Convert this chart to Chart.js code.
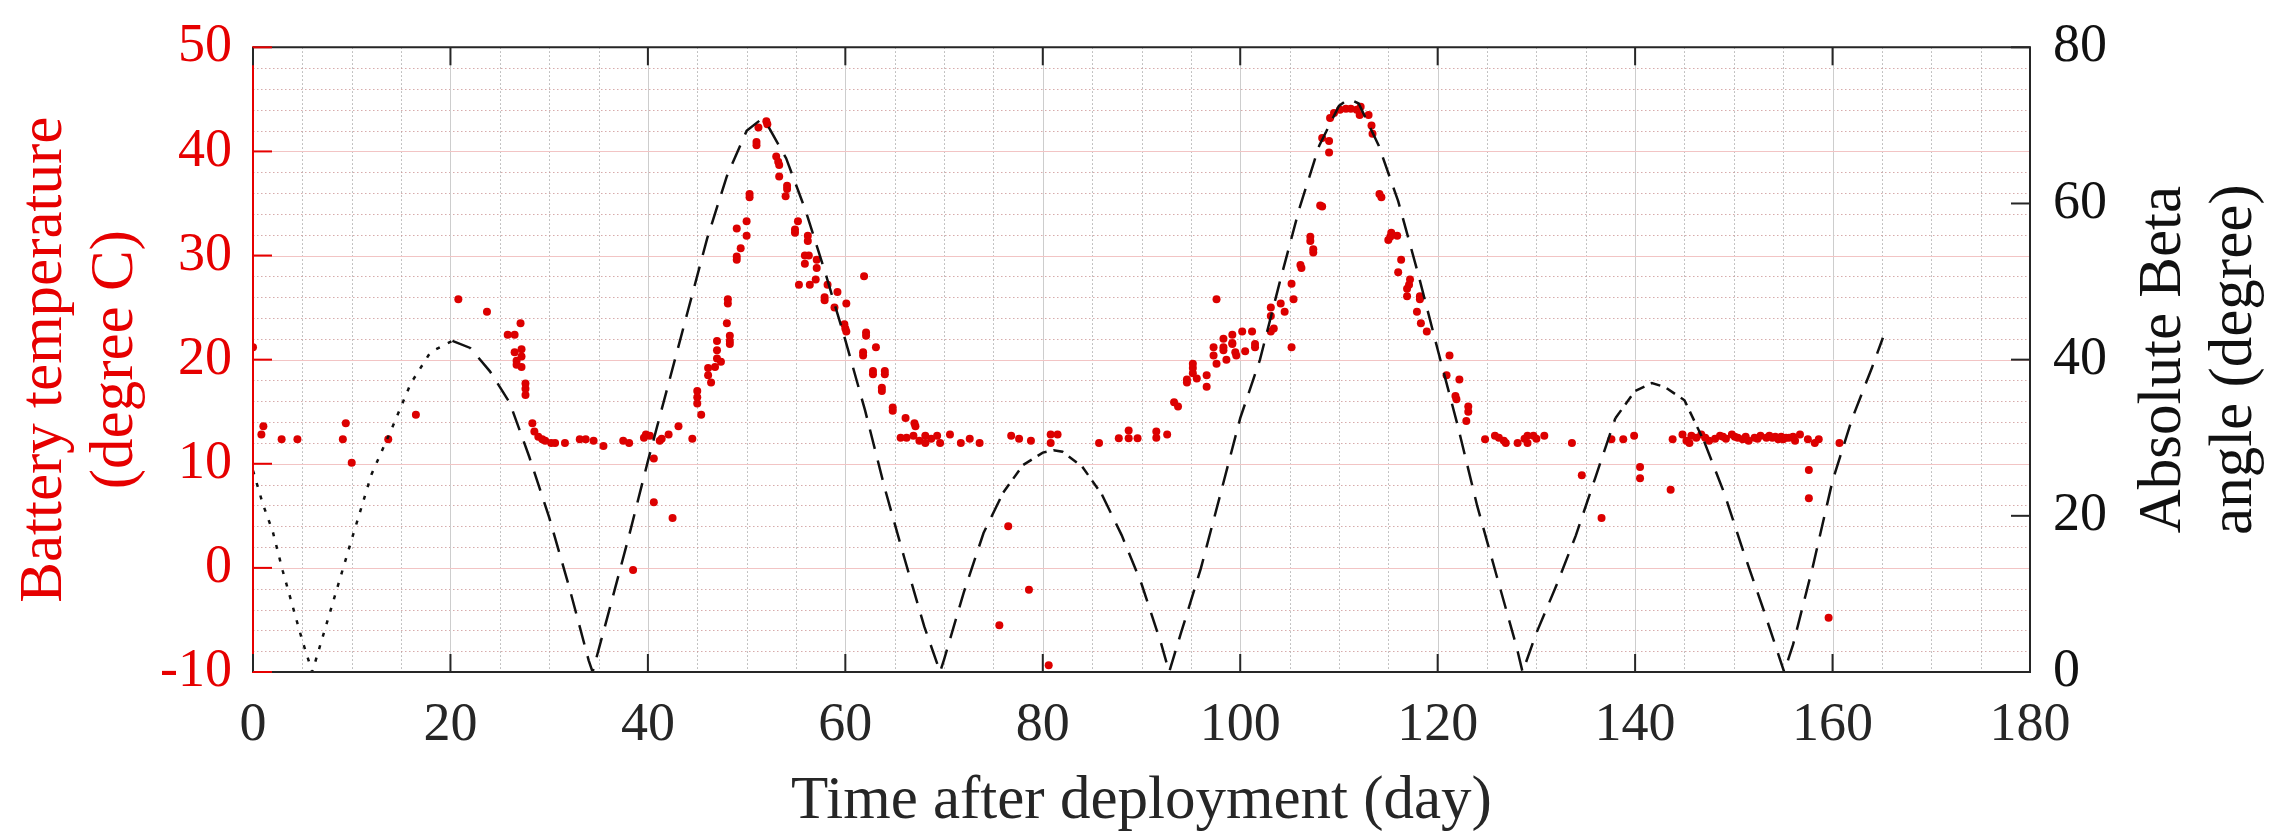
<!DOCTYPE html>
<html>
<head>
<meta charset="utf-8">
<script src="https://cdn.jsdelivr.net/npm/chart.js@4.4.0/dist/chart.umd.min.js"></script>
<style>
html,body{margin:0;padding:0;background:#fff;overflow:hidden;}
#wrap{width:2287px;height:832px;position:relative;}
</style>
</head>
<body>
<div id="wrap"><canvas id="c" width="2287" height="832"></canvas></div>
<script>
// ---------- DATA ----------
const xTicks = [0, 20, 40, 60, 80, 100, 120, 140, 160, 180];
const leftTicks = [-10, 0, 10, 20, 30, 40, 50];
const rightTicks = [0, 20, 40, 60, 80];

const xTitle = 'Time after deployment (day)';
const leftTitle = ['Battery temperature', '(degree C)'];
const rightTitle = ['Absolute Beta', 'angle (degree)'];

// Battery temperature (degree C) vs day
const tempDays = [
  0.0, 0.85, 1.05, 2.9, 4.5, 9.1, 9.4, 10.0, 13.7, 16.5,
  20.8, 23.7, 25.8, 26.5, 27.1, 26.5, 27.2, 26.7, 27.2, 26.7, 27.2, 27.6, 27.6, 27.6,
  28.3, 28.5, 28.9, 29.3, 29.6, 30.2, 30.6, 31.6, 33.1, 33.7, 34.5,
  35.5, 37.5, 38.1, 39.6, 39.8, 40.2, 40.6, 41.2, 41.4, 42.1, 43.1, 44.5, 45.4, 40.6, 42.5, 38.5,
  45.0, 45.0, 45.0, 46.1, 46.1, 46.4, 46.8, 47.0, 47.0, 47.0, 47.4, 48.0, 48.1, 48.1, 48.3, 48.3, 48.3,
  49.0, 49.0, 49.0, 49.4, 50.0, 50.0, 50.3, 50.3, 51.0, 51.0, 51.2, 52.0, 52.1,
  53.0, 53.2, 53.3, 53.3, 54.1, 54.1, 53.95, 54.9, 54.9, 55.2, 56.2, 56.2, 55.9, 56.3, 55.9,
  57.1, 57.1, 55.3, 56.4, 57.0, 58.2, 59.2, 57.9, 57.9, 58.9, 60.1, 61.9, 59.9, 60.0, 60.1,
  62.1, 62.1, 63.1, 61.8, 61.8, 62.8, 62.8, 64.0, 64.0, 63.7, 63.7, 64.8, 64.8, 66.1, 67.0, 67.1,
  65.6, 66.2, 66.9, 67.5, 68.1, 68.1, 68.7, 69.3, 69.6, 70.6, 71.7, 72.6, 73.6,
  76.8, 77.6, 78.8, 80.8, 81.5, 80.8, 76.5, 78.6, 75.6, 80.6,
  85.7, 87.7, 88.7, 88.7, 89.6, 91.5, 91.5, 92.6, 93.3, 93.7, 94.6, 94.6, 95.2, 95.2, 95.2, 95.6,
  96.6, 96.6, 97.3, 97.3, 97.6, 97.6, 98.3, 98.3, 98.3, 98.6, 99.2, 99.2, 99.2, 99.5, 99.6,
  100.2, 100.5, 101.2, 101.5, 101.5, 103.1, 103.1, 104.1, 104.5, 103.1, 103.4, 105.2, 105.2, 105.4,
  106.1, 106.2, 107.1, 107.1, 107.4, 107.4, 108.1, 108.3, 108.3, 109.0, 109.0, 109.1, 109.5,
  110.1, 110.7, 111.2, 111.8, 112.2, 112.1, 113.0, 113.3, 113.4, 114.1, 114.3,
  115.3, 115.2, 115.0, 115.9, 116.3, 116.0, 117.2, 117.1, 116.9, 116.9, 118.2, 118.2, 117.9, 118.3, 118.9,
  121.2, 120.9, 122.2, 121.8, 121.9, 123.1, 123.1, 122.9,
  124.8, 125.8, 126.2, 126.7, 126.9, 128.1, 128.8, 129.1, 129.1, 129.7, 130.0, 130.8,
  133.6, 134.6, 136.6, 137.6, 138.8, 139.9, 140.5, 140.5, 143.6,
  143.8, 144.8, 145.2, 145.7, 145.5, 146.2, 146.7, 147.1, 147.5, 148.1, 148.6, 148.9, 149.2, 149.8,
  150.1, 150.4, 150.9, 151.2, 151.5, 152.1, 152.4, 152.7, 153.3, 153.6, 153.9, 154.2, 154.5, 154.8,
  155.0, 155.3, 155.6, 156.0, 156.2, 156.7, 157.5, 158.2, 158.6, 160.7, 157.6, 157.6, 159.6
];
const tempValues = [
  21.2, 12.8, 13.6, 12.35, 12.35, 12.35, 13.9, 10.1, 12.35, 14.7,
  25.8, 24.6, 22.4, 22.4, 23.5, 20.7, 21.0, 19.9, 20.3, 19.5, 19.3, 17.7, 17.2, 16.6,
  13.9, 13.1, 12.6, 12.35, 12.2, 12.0, 12.0, 12.0, 12.35, 12.35, 12.2,
  11.7, 12.2, 12.0, 12.5, 12.8, 12.7, 10.5, 12.2, 12.4, 12.8, 13.6, 12.4, 14.7, 6.3, 4.8, -0.2,
  17.0, 16.4, 15.8, 19.2, 18.5, 17.8, 19.3, 21.8, 20.9, 20.1, 19.8, 23.5, 25.8, 25.4, 22.3, 21.8, 21.5,
  32.6, 29.9, 29.6, 30.7, 33.3, 31.9, 35.9, 35.6, 40.9, 40.6, 42.3, 42.9, 42.6,
  39.5, 39.0, 38.7, 37.6, 36.7, 36.4, 35.7, 32.5, 32.2, 33.3, 31.9, 31.4, 30.0, 30.0, 29.2,
  29.6, 28.8, 27.2, 27.2, 27.7, 27.2, 26.5, 26.0, 25.7, 25.0, 25.4, 28.0, 23.4, 23.0, 22.7,
  22.6, 22.3, 21.2, 20.7, 20.4, 18.9, 18.6, 18.9, 18.6, 17.3, 17.0, 15.4, 15.1, 14.4, 13.9, 13.6,
  12.5, 12.5, 12.7, 12.2, 12.7, 12.0, 12.4, 12.7, 12.0, 12.8, 12.0, 12.4, 12.0,
  12.7, 12.4, 12.2, 12.8, 12.8, 12.0, 4.0, -2.1, -5.5, -9.35,
  12.0, 12.45, 13.2, 12.45, 12.45, 13.1, 12.5, 12.8, 15.9, 15.5, 18.1, 17.8, 19.6, 19.2, 18.7, 18.2,
  18.5, 17.4, 21.2, 20.4, 19.6, 25.8, 22.0, 21.2, 20.9, 20.0, 22.4, 21.6, 21.5, 20.7, 20.4,
  22.7, 20.8, 22.7, 21.5, 21.2, 25.0, 24.2, 25.4, 24.6, 22.7, 23.0, 21.2, 27.3, 25.8,
  29.1, 28.8, 31.8, 31.4, 30.6, 30.3, 34.8, 34.7, 41.3, 41.0, 39.9, 43.2, 43.7,
  44.0, 44.1, 44.1, 44.0, 44.3, 43.5, 43.5, 42.5, 41.7, 35.9, 35.6,
  32.2, 31.8, 31.5, 31.9, 29.6, 28.4, 27.7, 27.2, 26.8, 26.1, 26.1, 25.8, 24.6, 23.5, 22.7,
  20.4, 18.5, 18.1, 16.5, 16.2, 15.5, 15.0, 14.1,
  12.35, 12.7, 12.5, 12.2, 12.0, 12.0, 12.4, 12.0, 12.7, 12.7, 12.4, 12.7,
  12.0, 8.9, 4.8, 12.35, 12.35, 12.7, 9.7, 8.6, 7.5,
  12.35, 12.8, 12.2, 12.7, 12.0, 12.5, 12.8, 12.5, 12.2, 12.4, 12.7, 12.6, 12.4, 12.8,
  12.6, 12.5, 12.35, 12.6, 12.2, 12.5, 12.4, 12.7, 12.5, 12.7, 12.5, 12.6, 12.35, 12.6,
  12.35, 12.5, 12.5, 12.6, 12.2, 12.8, 12.35, 12.0, 12.35, 12.0, 9.4, 6.7, -4.8
];

// Absolute beta angle (degree) vs day
const betaDays = [
  0, 1, 2, 3, 4, 5, 6,
  8, 10, 12, 14, 16, 18, 20.2, 22, 24, 26, 28, 30, 32, 34, 34.4,
  36, 38, 40, 42, 44, 46, 48, 50, 51.3, 52, 54, 56, 58, 60, 62, 64, 66, 68, 69.6,
  70, 72, 74, 76, 78, 80, 81.1, 82, 84, 86, 88, 90, 92, 92.8,
  94, 96, 98, 100, 102, 104, 106, 108, 110, 111, 112, 114, 116, 118, 120, 122, 124, 126, 128, 128.6,
  130, 132, 134, 136, 138, 140, 141.7, 143, 145, 147, 149, 151, 153, 155.1,
  156, 158, 160, 162, 164, 165.1
];
const betaValues = [
  25.8, 21.5, 18, 13, 8.5, 4, 0,
  8.5, 17, 25.3, 31, 37, 41, 42.4, 41.5, 38.5, 34.5, 27.5, 19.8, 11, 1.5, 0,
  7.5, 17, 27, 36.5, 46, 55.5, 63.5, 69.3, 70.6, 70.3, 65.8, 59, 51, 42.5, 33.5, 23.5, 14.5, 5.8, 0,
  1.6, 10.2, 17.8, 23, 26.5, 28.1, 28.4, 28.2, 26.3, 22.7, 17.5, 11.3, 3.6, 0,
  5, 13.2, 22.8, 32.5, 40, 49.9, 59.4, 67.4, 72.5, 73.4, 72.8, 67.5, 60.3, 51.1, 41.3, 31.7, 21.3, 12.2, 3.2, 0,
  5, 11, 17.5, 25, 32.5, 36, 37, 36.5, 34.8, 29.5, 23, 15.3, 8, 0,
  3.5, 13.5, 24.5, 32.5, 39, 42.8
];

// ---------- STYLE ----------
const RED = '#e60000';
const DOT = '#dc0000';
const DARK = '#262626';
const FONT = '"Liberation Serif", "Times New Roman", serif';

const matlabPlugin = {
  id: 'matlabLook',
  beforeDatasetsDraw(chart) {
    const {ctx, chartArea: a, scales} = chart;
    const x = scales.x, y = scales.y;
    ctx.save();
    ctx.beginPath();
    ctx.rect(a.left, a.top, a.right - a.left, a.bottom - a.top);
    ctx.clip();
    ctx.lineWidth = 1;
    ctx.setLineDash([1.5, 2.5]);
    ctx.strokeStyle = 'rgba(150,150,150,0.75)';
    for (let v = x.min; v <= x.max; v += 5) {
      if (v % 20 === 0) continue;
      const px = Math.round(x.getPixelForValue(v)) + 0.5;
      ctx.beginPath(); ctx.moveTo(px, a.top); ctx.lineTo(px, a.bottom); ctx.stroke();
    }
    ctx.strokeStyle = 'rgba(205,150,150,0.8)';
    for (let v = y.min; v <= y.max; v += 2) {
      if (v % 10 === 0) continue;
      const py = Math.round(y.getPixelForValue(v)) + 0.5;
      ctx.beginPath(); ctx.moveTo(a.left, py); ctx.lineTo(a.right, py); ctx.stroke();
    }
    ctx.setLineDash([]);
    ctx.strokeStyle = 'rgba(205,205,205,1)';
    xTicks.forEach(v => {
      const px = Math.round(x.getPixelForValue(v)) + 0.5;
      ctx.beginPath(); ctx.moveTo(px, a.top); ctx.lineTo(px, a.bottom); ctx.stroke();
    });
    ctx.strokeStyle = 'rgba(242,196,196,1)';
    leftTicks.forEach(v => {
      const py = Math.round(y.getPixelForValue(v)) + 0.5;
      ctx.beginPath(); ctx.moveTo(a.left, py); ctx.lineTo(a.right, py); ctx.stroke();
    });
    ctx.restore();
  },
  afterDatasetsDraw(chart) {
    const {ctx, chartArea: a, scales} = chart;
    const x = scales.x, y = scales.y, y1 = scales.y1;
    ctx.save();
    ctx.lineWidth = 2;
    ctx.setLineDash([]);
    ctx.strokeStyle = DARK;
    ctx.beginPath();
    ctx.moveTo(a.left, a.top); ctx.lineTo(a.right, a.top); ctx.lineTo(a.right, a.bottom); ctx.lineTo(a.left, a.bottom);
    ctx.stroke();
    ctx.strokeStyle = RED;
    ctx.beginPath(); ctx.moveTo(a.left, a.top - 1); ctx.lineTo(a.left, a.bottom + 1); ctx.stroke();
    ctx.strokeStyle = DARK;
    xTicks.forEach(v => {
      const px = x.getPixelForValue(v);
      ctx.beginPath(); ctx.moveTo(px, a.bottom); ctx.lineTo(px, a.bottom - 18); ctx.stroke();
      ctx.beginPath(); ctx.moveTo(px, a.top); ctx.lineTo(px, a.top + 18); ctx.stroke();
    });
    rightTicks.forEach(v => {
      const py = y1.getPixelForValue(v);
      ctx.beginPath(); ctx.moveTo(a.right, py); ctx.lineTo(a.right - 19, py); ctx.stroke();
    });
    ctx.strokeStyle = RED;
    leftTicks.forEach(v => {
      const py = y.getPixelForValue(v);
      ctx.beginPath(); ctx.moveTo(a.left, py); ctx.lineTo(a.left + 19, py); ctx.stroke();
    });
    ctx.restore();
  },
  afterDraw(chart) {
    const {ctx, chartArea: a} = chart;
    const cy = (a.top + a.bottom) / 2;
    ctx.save();
    ctx.font = '61px ' + FONT;
    ctx.textAlign = 'center';
    ctx.textBaseline = 'alphabetic';
    ctx.fillStyle = DARK;
    ctx.fillText(xTitle, (a.left + a.right) / 2, 818);
    ctx.fillStyle = RED;
    [61, 132].forEach((bx, i) => {
      ctx.save(); ctx.translate(bx, cy); ctx.rotate(-Math.PI / 2);
      ctx.fillText(leftTitle[i], 0, 0); ctx.restore();
    });
    ctx.fillStyle = '#111';
    [2180, 2251].forEach((bx, i) => {
      ctx.save(); ctx.translate(bx, cy); ctx.rotate(-Math.PI / 2);
      ctx.fillText(rightTitle[i], 0, 0); ctx.restore();
    });
    ctx.restore();
  }
};

const tempData = tempDays.map((d, i) => ({x: d, y: tempValues[i]}));
const betaData = betaDays.map((d, i) => ({x: d, y: betaValues[i]}));

function betaDash(c) {
  const x0 = c.p0.parsed.x;
  if (x0 < 20) return [4, 9];
  if ((x0 >= 76 && x0 < 86) || (x0 >= 138 && x0 < 146)) return [10, 7];
  return [20, 12];
}

new Chart(document.getElementById('c'), {
  type: 'scatter',
  data: {
    datasets: [
      {
        label: 'Absolute Beta angle',
        data: betaData,
        yAxisID: 'y1',
        showLine: true,
        borderColor: '#111',
        borderWidth: 2.5,
        borderDash: [20, 12],
        borderCapStyle: 'butt',
        pointRadius: 0,
        tension: 0,
        order: 0,
        segment: {borderDash: betaDash}
      },
      {
        label: 'Battery temperature',
        data: tempData,
        yAxisID: 'y',
        pointRadius: 4,
        pointBackgroundColor: DOT,
        pointBorderWidth: 0,
        borderWidth: 0,
        order: 1
      }
    ]
  },
  options: {
    responsive: false,
    devicePixelRatio: 1,
    animation: false,
    events: [],
    layout: {padding: {top: 27, left: 0, right: 0, bottom: 0}},
    plugins: {legend: {display: false}, tooltip: {enabled: false}},
    scales: {
      x: {
        type: 'linear', min: 0, max: 180, position: 'bottom',
        grid: {display: false, drawTicks: false}, border: {display: false},
        afterBuildTicks: s => { s.ticks = xTicks.map(v => ({value: v})); },
        afterFit: s => { s.height = 160; },
        ticks: {color: DARK, padding: 27, maxRotation: 0, autoSkip: false,
                font: {family: FONT, size: 54, lineHeight: 1}}
      },
      y: {
        type: 'linear', min: -10, max: 50, position: 'left',
        grid: {display: false, drawTicks: false}, border: {display: false},
        afterBuildTicks: s => { s.ticks = leftTicks.map(v => ({value: v})); },
        afterFit: s => { s.width = 253; },
        ticks: {color: RED, padding: 21, font: {family: FONT, size: 54, lineHeight: 0.9}}
      },
      y1: {
        type: 'linear', min: 0, max: 80, position: 'right',
        grid: {display: false, drawTicks: false}, border: {display: false},
        afterBuildTicks: s => { s.ticks = rightTicks.map(v => ({value: v})); },
        afterFit: s => { s.width = 257; },
        ticks: {color: '#111', padding: 23, font: {family: FONT, size: 54, lineHeight: 0.9}}
      }
    }
  },
  plugins: [matlabPlugin]
});
</script>
</body>
</html>
